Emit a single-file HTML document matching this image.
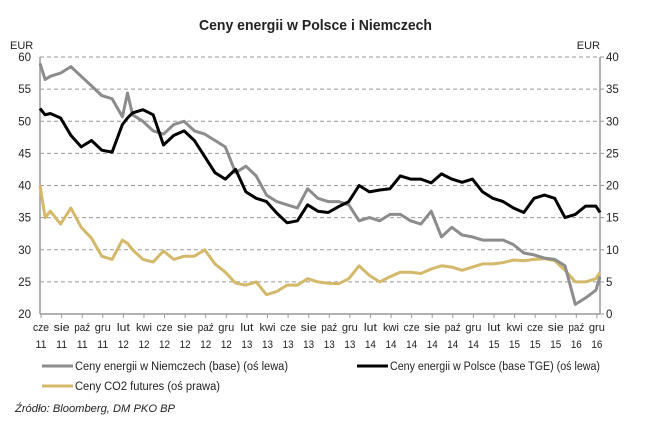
<!DOCTYPE html>
<html><head><meta charset="utf-8"><style>
body{margin:0;background:#fff;font-family:"Liberation Sans",sans-serif;}
svg text{font-family:"Liberation Sans",sans-serif;}
</style></head><body>
<svg id="chart" width="645" height="427" viewBox="0 0 645 427" xmlns="http://www.w3.org/2000/svg">
<text x="199" y="30" font-size="15" font-weight="bold" fill="#222" textLength="233" lengthAdjust="spacingAndGlyphs">Ceny energii w Polsce i Niemczech</text>
<text x="10" y="49" font-size="11" fill="#222">EUR</text>
<text x="600" y="49" font-size="11" fill="#222" text-anchor="end">EUR</text>
<g id="grid"></g>
<g id="axes"></g>
<g id="series"></g>
<g>
<g><line x1="42" y1="366" x2="73" y2="366" stroke="#8c8c8c" stroke-width="3"/><text x="75" y="370" font-size="11.5" fill="#222" textLength="213" lengthAdjust="spacingAndGlyphs">Ceny energii w Niemczech (base) (oś lewa)</text></g>
<g><line x1="357" y1="366" x2="388" y2="366" stroke="#000" stroke-width="3"/><text x="390" y="370" font-size="11.5" fill="#222" textLength="210" lengthAdjust="spacingAndGlyphs">Ceny energii w Polsce (base TGE) (oś lewa)</text></g>
<g><line x1="42" y1="386" x2="73" y2="386" stroke="#d4b96a" stroke-width="3"/><text x="75" y="390" font-size="11.5" fill="#222" textLength="145" lengthAdjust="spacingAndGlyphs">Ceny CO2 futures (oś prawa)</text></g>
</g>
<text x="15" y="412" font-size="11" font-style="italic" fill="#222" textLength="160" lengthAdjust="spacingAndGlyphs">Źródło: Bloomberg, DM PKO BP</text>
</svg>
<script>
const months = [0,0.5,1,2,3,4,5,6,7,8,8.5,9,10,11,12,13,14,15,16,17,18,19,20,21,22,23,24,25,26,27,28,29,30,31,32,33,34,35,36,37,38,39,40,41,42,43,44,45,46,47,48,49,50,51,52,53,54,54.4];
const germany = [59,56.5,57,57.5,58.5,57,55.5,54,53.5,50.7,54.4,51,50,48.5,48,49.5,50,48.5,48,47,46,42,43,41.5,38.5,37.5,37,36.5,39.5,38,37.5,37.5,37,34.5,35,34.5,35.5,35.5,34.5,34,36,32,33.5,32.3,32,31.5,31.5,31.5,30.8,29.5,29.2,28.7,28.5,27.5,21.5,22.5,23.7,25.8];
const poland = [52,51,51.2,50.5,47.8,46,47,45.5,45.2,49.5,50.5,51.3,51.8,51,46.3,47.8,48.5,47,44.5,42,41,42.5,39,38,37.5,35.7,34.2,34.5,37,36,35.8,36.7,37.5,40,39,39.3,39.5,41.5,41,41,40.4,41.8,41,40.5,41,39,38,37.5,36.5,35.8,38,38.5,38,35,35.5,36.8,36.8,35.8];
const co2 = [20,15,16,14,16.5,13.5,11.8,9,8.5,11.5,11,10,8.5,8.1,9.8,8.5,9,9,10,7.8,6.5,4.8,4.5,5,3,3.5,4.5,4.5,5.5,5,4.8,4.7,5.5,7.5,6,5,5.8,6.5,6.5,6.3,7,7.5,7.3,6.8,7.3,7.8,7.8,8,8.4,8.3,8.5,8.6,8.3,6.8,5,5,5.5,6.5];
const leftTicks = [20,25,30,35,40,45,50,55,60];
const rightTicks = [0,5,10,15,20,25,30,35,40];
const monthLabels = ["cze","sie","paź","gru","lut","kwi"];
const yearLabels = ["11","11","11","11","12","12","12","12","12","12","13","13","13","13","13","13","14","14","14","14","14","14","15","15","15","15","16","16"];

const X0=40, X1=600, Y0=314, Y1=57;
const xs = m => X0 + m*(X1-X0)/54.4;
const yl = v => Y0 - (v-20)*(Y0-Y1)/40;
const yr = v => Y0 - v*(Y0-Y1)/40;
const NS="http://www.w3.org/2000/svg";
function mk(parent,tag,attrs){const e=document.createElementNS(NS,tag);for(const k in attrs)e.setAttribute(k,attrs[k]);parent.appendChild(e);return e;}
const grid=document.getElementById('grid'), axes=document.getElementById('axes'), ser=document.getElementById('series');

leftTicks.forEach((v,i)=>{
  const y=yl(v);
  if(i>0){const g=mk(grid,'line',{x1:X0,x2:X1,y1:y,y2:y,stroke:'#999','stroke-dasharray':'4,3','stroke-width':1});
  
  }
  const t=mk(axes,'text',{x:31,y:y+4,'text-anchor':'end','font-size':11.5,fill:'#222'});t.textContent=v;
  
  
});
rightTicks.forEach(v=>{
  const y=yr(v);
  const t=mk(axes,'text',{x:606,y:y+4,'font-size':11.5,fill:'#222'});t.textContent=v;
  
  
  mk(axes,'line',{x1:X1,x2:X1+4,y1:y,y2:y,stroke:'#999'});
});
mk(axes,'line',{x1:X0,x2:X0,y1:Y1,y2:Y0,stroke:'#999','stroke-width':1.5});
mk(axes,'line',{x1:X1,x2:X1,y1:Y1,y2:Y0,stroke:'#999','stroke-width':1.5});
mk(axes,'line',{x1:X0,x2:X1,y1:Y0,y2:Y0,stroke:'#999','stroke-width':1.5});
yearLabels.forEach((yy,i)=>{
  const x=xs(i*2+0.1);
  mk(axes,'line',{x1:x,x2:x,y1:Y0,y2:Y0+4,stroke:'#999'});
  const ml=monthLabels[i%6];
  const t=mk(axes,'text',{x:x,y:331,'text-anchor':'middle','font-size':11,fill:'#222',textLength:(ml==='lut'?13:16),lengthAdjust:'spacingAndGlyphs'});t.textContent=ml;
  
  
  const t2=mk(axes,'text',{x:x,y:348,'text-anchor':'middle','font-size':11,fill:'#222',textLength:11,lengthAdjust:'spacingAndGlyphs'});t2.textContent=yy;
  
  
});
function line(vals,yf,color,name){
  const d=vals.map((v,i)=>(i?'L':'M')+xs(months[i]).toFixed(1)+','+yf(v).toFixed(1)).join(' ');
  const p=mk(ser,'path',{d:d,fill:'none',stroke:color,'stroke-width':3,'stroke-linejoin':'round'});
  
  
}
line(co2,yr,'#d4b96a','co2-line');
line(germany,yl,'#8c8c8c','germany-line');
line(poland,yl,'#000','poland-line');
</script>
</body></html>
